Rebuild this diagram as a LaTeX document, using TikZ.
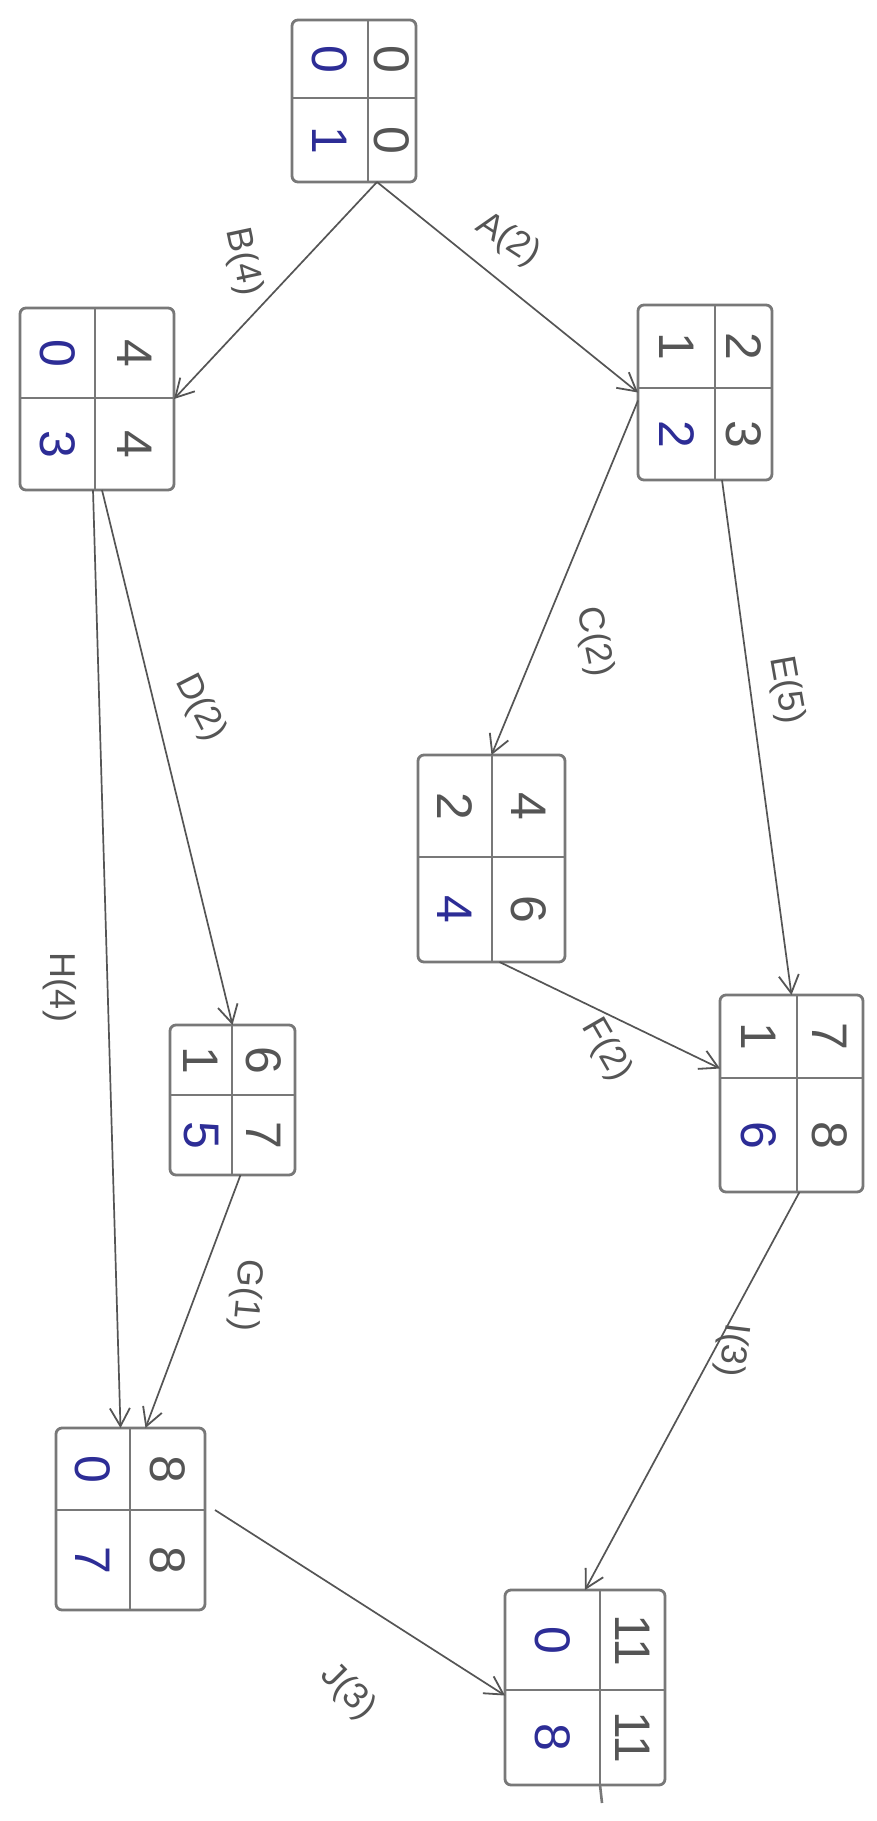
\documentclass[tikz,border=0pt]{standalone}
\usepackage{fontspec}
\setmainfont{Liberation Sans}
\usetikzlibrary{arrows.meta,calc}
\definecolor{pencil}{RGB}{120,120,120}
\definecolor{lead}{RGB}{85,85,85}
\definecolor{blueink}{RGB}{45,45,150}
\tikzset{
  boxst/.style={draw=pencil,line width=2.8pt,rounded corners=6pt,inner sep=0pt,outer sep=0pt,fill=none},
  divst/.style={draw=pencil,line width=2.6pt},
  dg/.style={text=lead,font=\fontsize{50}{54}\selectfont,rotate=-90,inner sep=0pt},
  dgb/.style={dg,text=blueink},
  edge/.style={draw=lead,line width=1.7pt,-{Straight Barb[length=18pt,width=20pt,line width=1.8pt]}},
  lab/.style={text=lead,font=\fontsize{36}{40}\selectfont,inner sep=0pt}
}
% name, L, T, R, B, V, Hd
\newcommand\pertbox[7]{%
  \node[boxst,minimum width={(#4-#2)*1pt},minimum height={(#5-#3)*1pt}] (#1) at ({(#2+#4)/2},{(#3+#5)/2}) {};
  \draw[divst] (#6,#3) -- (#6,#5);
  \draw[divst] (#2,#7) -- (#4,#7);
  \coordinate (#1-tl) at ({(#2+#6)/2},{(#3+#7)/2});
  \coordinate (#1-tr) at ({(#6+#4)/2},{(#3+#7)/2});
  \coordinate (#1-bl) at ({(#2+#6)/2},{(#7+#5)/2});
  \coordinate (#1-br) at ({(#6+#4)/2},{(#7+#5)/2});
}
\begin{document}
\begin{tikzpicture}[x=1pt,y=-1pt]
\fill[white] (0,0) rectangle (876,1821);
\useasboundingbox (0,0) rectangle (876,1821);

\pertbox{n0}{292}{20}{416}{182}{368}{98}
\pertbox{nB}{20}{308}{174}{490}{95}{398}
\pertbox{nA}{638}{305}{772}{480}{715}{388}
\pertbox{nC}{418}{755}{565}{962}{492}{857}
\pertbox{nD}{170}{1025}{295}{1175}{232}{1095}
\pertbox{nE}{720}{995}{863}{1192}{797}{1078}
\pertbox{nG}{56}{1428}{205}{1610}{130}{1510}
\pertbox{nF}{505}{1590}{665}{1785}{600}{1690}
\draw[divst] (600,1785) -- (602,1803);

% cell values
\node[dgb] (n0a) at (n0-tl) {0};
\node[dg]  (n0b) at (n0-tr) {0};
\node[dgb] (n0c) at (n0-bl) {1};
\node[dg]  (n0d) at (n0-br) {0};

\node[dgb] (nBa) at (nB-tl) {0};
\node[dg]  (nBb) at (nB-tr) {4};
\node[dgb] (nBc) at (nB-bl) {3};
\node[dg]  (nBd) at (nB-br) {4};

\node[dg]  (nAa) at (nA-tl) {1};
\node[dg]  (nAb) at (nA-tr) {2};
\node[dgb] (nAc) at (nA-bl) {2};
\node[dg]  (nAd) at (nA-br) {3};

\node[dg]  (nCa) at (nC-tl) {2};
\node[dg]  (nCb) at (nC-tr) {4};
\node[dgb] (nCc) at (nC-bl) {4};
\node[dg]  (nCd) at (nC-br) {6};

\node[dg]  (nDa) at (nD-tl) {1};
\node[dg]  (nDb) at (nD-tr) {6};
\node[dgb] (nDc) at (nD-bl) {5};
\node[dg]  (nDd) at (nD-br) {7};

\node[dg]  (nEa) at (nE-tl) {1};
\node[dg]  (nEb) at (nE-tr) {7};
\node[dgb] (nEc) at (nE-bl) {6};
\node[dg]  (nEd) at (nE-br) {8};

\node[dgb] (nGa) at (nG-tl) {0};
\node[dg]  (nGb) at (nG-tr) {8};
\node[dgb] (nGc) at (nG-bl) {7};
\node[dg]  (nGd) at (nG-br) {8};

\node[dgb] (nFa) at (nF-tl) {0};
\node[dg]  (nFb) at (nF-tr) {11};
\node[dgb] (nFc) at (nF-bl) {8};
\node[dg]  (nFd) at (nF-br) {11};

% connectors
\draw[edge] ([xshift=23pt]n0.south) -- (nA.west);
\draw[edge] ([xshift=23pt]n0.south) -- (nB.east);
\draw[edge] ([yshift=-8pt]nA.west) -- (nC.north);
\draw[edge] ([xshift=17pt]nA.south) -- (nE.north);
\draw[edge] ([xshift=5pt]nB.south) -- (nD.north);
\draw[edge] ([xshift=-4pt]nB.south) -- ([xshift=-10pt]nG.north);
\draw[edge] ([xshift=8pt]nD.south) -- ([xshift=15pt]nG.north);
\draw[edge] ([xshift=8pt]nC.south) -- ([yshift=25pt]nE.west);
\draw[edge] ([xshift=8pt]nE.south) -- (nF.north);
\draw[edge] ([shift={(10pt,9pt)}]nG.east) -- ([yshift=-8pt]nF.west);

% labels
\node[lab,rotate=-33] (lA) at (508,240) {A(2)};
\node[lab,rotate=-78] (lB) at (243,262) {B(4)};
\node[lab,rotate=-78] (lC) at (594,642) {C(2)};
\node[lab,rotate=-80] (lE) at (786,690) {E(5)};
\node[lab,rotate=-63] (lD) at (200,708) {D(2)};
\node[lab,rotate=-90] (lH) at (60,987) {H(4)};
\node[lab,rotate=-60] (lF) at (606,1050) {F(2)};
\node[lab,rotate=-95] (lG) at (246,1295) {G(1)};
\node[lab,rotate=-97] (lI) at (732,1350) {I(3)};
\node[lab,rotate=-45] (lJ) at (348,1692) {J(3)};
\end{tikzpicture}
\end{document}
